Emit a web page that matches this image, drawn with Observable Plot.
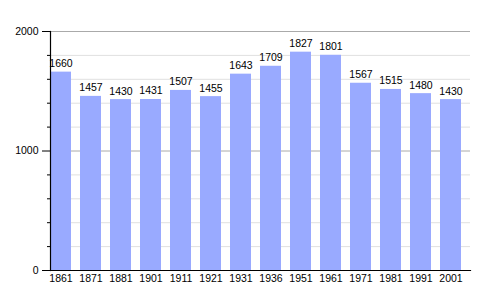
<!DOCTYPE html>
<html>
<head>
<meta charset="utf-8">
<script src="https://cdn.jsdelivr.net/npm/d3@7"></script>
<script src="https://cdn.jsdelivr.net/npm/@observablehq/plot@0.6"></script>
<style>
  html, body { margin: 0; padding: 0; background: #fff; }
</style>
</head>
<body>
<div id="chart"></div>
<script>
const years = ["1861","1871","1881","1901","1911","1921","1931","1936","1951","1961","1971","1981","1991","2001"];
const population = [1660,1457,1430,1431,1507,1455,1643,1709,1827,1801,1567,1515,1480,1430];
const majorTicks = [0, 1000, 2000];
const minorTicks = [200, 400, 600, 800, 1200, 1400, 1600, 1800];

const data = years.map((y, i) => ({year: y, pop: population[i]}));

const chart = Plot.plot({
  width: 500,
  height: 300,
  marginLeft: 50,
  marginRight: 30,
  marginTop: 31,
  marginBottom: 30,
  style: {fontFamily: "Liberation Sans, Arial, sans-serif", fontSize: "10px", background: "#fff", color: "#000"},
  x: {domain: years, paddingInner: 0.316, paddingOuter: 0, align: 0, label: null},
  y: {domain: [0, 2000], label: null},
  marks: [
    Plot.ruleY(minorTicks, {stroke: "#e0e0e0", strokeWidth: 1}),
    Plot.ruleY([1000, 2000], {stroke: "#aaaaaa", strokeWidth: 1}),
    Plot.barY(data, {x: "year", y: "pop", fill: "#99aaff"}),
    Plot.text(data, {x: "year", y: "pop", text: d => String(d.pop), dy: -5, lineAnchor: "bottom", fill: "#000", fontSize: 10.5}),
    Plot.axisY(minorTicks, {tickSize: 3, text: null, stroke: "#000"}),
    Plot.axisY(majorTicks, {tickSize: 8, tickPadding: 4, tickFormat: d => String(d), stroke: "#000", fill: "#000", fontSize: 10.5}),
    Plot.axisX({tickSize: 0, tickPadding: 4, fill: "#000", fontSize: 10.5}),
    Plot.frame({anchor: "left", stroke: "#000", strokeWidth: 1.2}),
    Plot.frame({anchor: "bottom", stroke: "#000", strokeWidth: 1.2})
  ]
});
document.getElementById("chart").appendChild(chart);
</script>
</body>
</html>
